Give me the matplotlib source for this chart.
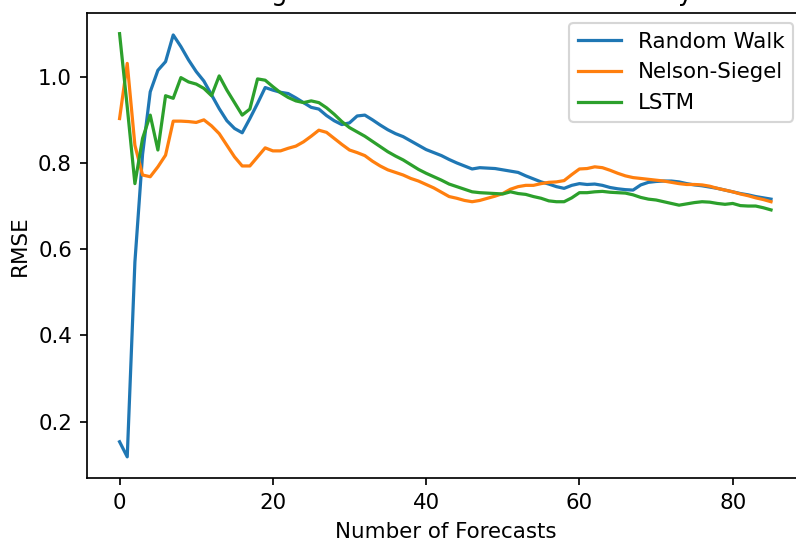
import numpy as np
import matplotlib
matplotlib.use('Agg')
import matplotlib.pyplot as plt

# RMSE per number of forecasts
random_walk = [0.153, 0.118, 0.57, 0.82, 0.965, 1.015, 1.035, 1.097, 1.07, 1.039,
               1.012, 0.99, 0.958, 0.926, 0.898, 0.88, 0.87, 0.903, 0.938, 0.975,
               0.969, 0.964, 0.961, 0.951, 0.94, 0.929, 0.925, 0.91, 0.898, 0.889,
               0.893, 0.909, 0.911, 0.9, 0.888, 0.877, 0.868, 0.861, 0.851, 0.841,
               0.831, 0.824, 0.817, 0.808, 0.8, 0.793, 0.786, 0.789, 0.788, 0.787,
               0.784, 0.781, 0.778, 0.77, 0.763, 0.756, 0.751, 0.745, 0.741, 0.748,
               0.752, 0.75, 0.751, 0.748, 0.743, 0.74, 0.738, 0.737, 0.749, 0.755,
               0.757, 0.758, 0.758, 0.756, 0.752, 0.749, 0.747, 0.744, 0.741, 0.737,
               0.733, 0.729, 0.726, 0.722, 0.719, 0.716]
nelson_siegel = [0.903, 1.031, 0.841, 0.772, 0.768, 0.791, 0.818, 0.897, 0.897, 0.896,
                 0.894, 0.9, 0.886, 0.868, 0.841, 0.814, 0.793, 0.793, 0.814, 0.835,
                 0.828, 0.828, 0.834, 0.839, 0.849, 0.862, 0.876, 0.871, 0.857, 0.843,
                 0.83, 0.824, 0.817, 0.804, 0.793, 0.784, 0.778, 0.772, 0.764, 0.758,
                 0.75, 0.742, 0.732, 0.722, 0.718, 0.713, 0.71, 0.713, 0.718, 0.723,
                 0.729, 0.739, 0.745, 0.748, 0.748, 0.752, 0.755, 0.756, 0.759, 0.773,
                 0.786, 0.787, 0.791, 0.789, 0.783, 0.776, 0.77, 0.766, 0.764, 0.762,
                 0.76, 0.758, 0.755, 0.752, 0.75, 0.75, 0.749, 0.746, 0.741, 0.737,
                 0.733, 0.728, 0.724, 0.719, 0.715, 0.71]
lstm = [1.1, 0.93, 0.752, 0.857, 0.911, 0.83, 0.956, 0.95, 0.998, 0.988,
        0.983, 0.973, 0.956, 1.002, 0.969, 0.94, 0.911, 0.925, 0.995, 0.992,
        0.977, 0.963, 0.952, 0.944, 0.94, 0.944, 0.94, 0.928, 0.913, 0.896,
        0.882, 0.872, 0.862, 0.85, 0.838, 0.826, 0.816, 0.807, 0.796, 0.785,
        0.776, 0.768, 0.76, 0.751, 0.745, 0.739, 0.733, 0.731, 0.73, 0.729,
        0.728, 0.733, 0.729, 0.727, 0.722, 0.718, 0.712, 0.71, 0.71, 0.719,
        0.731, 0.731, 0.733, 0.734, 0.732, 0.731, 0.73, 0.726, 0.72, 0.716,
        0.714, 0.71, 0.706, 0.702, 0.705, 0.708, 0.71, 0.709, 0.706, 0.704,
        0.706, 0.701, 0.7, 0.7, 0.696, 0.691]
names = ["Random Walk", "Nelson-Siegel", "LSTM"]

x = np.arange(len(random_walk))

fig = plt.figure(figsize=(796/154, 540/154), dpi=154)
# the original picture is cropped: the title and right spine fall outside
ax = fig.add_axes([87/796, 62/540, 716.6/796, 465.5/540])
ax.plot(x, random_walk, label=names[0])
ax.plot(x, nelson_siegel, label=names[1])
ax.plot(x, lstm, label=names[2])
ax.set_xlabel('Number of Forecasts')
ax.set_ylabel('RMSE')
ax.set_title('Average RMSE for the 10-Year Maturity')
ax.legend(loc='upper right')
fig.savefig('out.png', dpi=154)
